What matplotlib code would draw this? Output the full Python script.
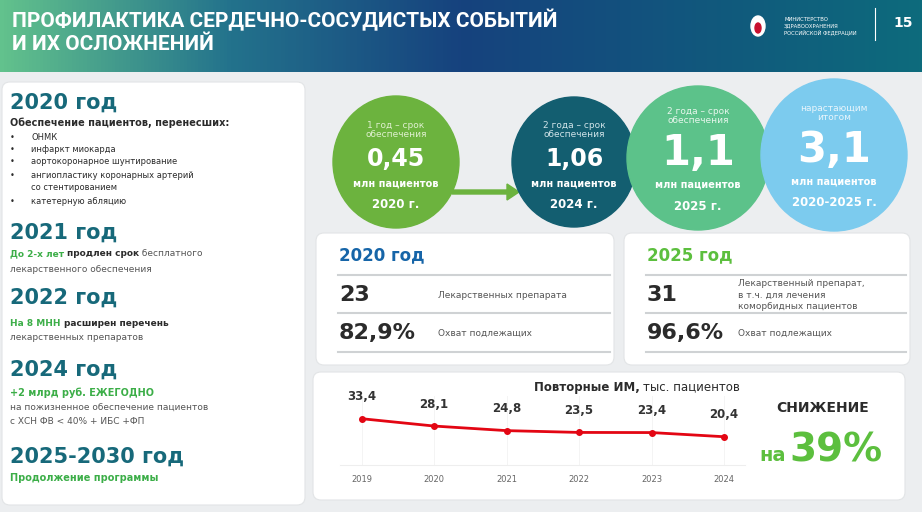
import numpy as np
import matplotlib.pyplot as plt
from matplotlib.patches import FancyBboxPatch, Ellipse, FancyArrow
from matplotlib.colors import LinearSegmentedColormap

plt.rcParams['font.family'] = ['DejaVu Sans']

# данные
years = [2019, 2020, 2021, 2022, 2023, 2024]
repeat_mi = [33.4, 28.1, 24.8, 23.5, 23.4, 20.4]

circle_top = ['1 год – срок\nобеспечения', '2 года – срок\nобеспечения',
              '2 года – срок\nобеспечения', 'нарастающим\nитогом']
circle_values = ['0,45', '1,06', '1,1', '3,1']
circle_years = ['2020 г.', '2024 г.', '2025 г.', '2020-2025 г.']

card_2020 = [('23', 'Лекарственных препарата'), ('82,9%', 'Охват подлежащих')]
card_2025 = [('31', 'Лекарственный препарат,\nв т.ч. для лечения\nкоморбидных пациентов'),
             ('96,6%', 'Охват подлежащих')]

TEAL = '#17697a'
GREEN = '#3cae48'
DARK = '#2b2b2b'
GREY = '#555555'

fig = plt.figure(figsize=(9.22, 5.12), dpi=100)
fig.patch.set_facecolor('#eceef0')
ax = fig.add_axes([0, 0, 1, 1])
ax.set_xlim(0, 922)
ax.set_ylim(512, 0)
ax.axis('off')

# шапка с градиентом
cmap = LinearSegmentedColormap.from_list('hdr', [(0, '#62c28d'), (0.25, '#23728c'),
                                                 (0.5, '#16427e'), (1, '#0d6b7c')])
grad = np.linspace(0, 1, 256).reshape(1, -1)
ax.imshow(grad, cmap=cmap, extent=(0, 922, 72, 0), aspect='auto', zorder=0)
ax.set_xlim(0, 922)
ax.set_ylim(512, 0)
ax.text(12, 20, 'ПРОФИЛАКТИКА СЕРДЕЧНО-СОСУДИСТЫХ СОБЫТИЙ', color='white',
        fontsize=15, fontweight='bold', family='Roboto', va='center')
ax.text(12, 44, 'И ИХ ОСЛОЖНЕНИЙ', color='white', fontsize=15,
        fontweight='bold', family='Roboto', va='center')
ax.add_patch(Ellipse((758, 26), 14, 20, color='white', zorder=2))
ax.add_patch(Ellipse((758, 28), 6, 10, color='#c8102e', zorder=3))
ax.text(784, 26, 'МИНИСТЕРСТВО\nЗДРАВООХРАНЕНИЯ\nРОССИЙСКОЙ ФЕДЕРАЦИИ', color='white',
        fontsize=3.8, va='center', linespacing=1.2)
ax.plot([875, 875], [8, 40], color='white', lw=0.8)
ax.text(893, 23, '15', color='white', fontsize=10, fontweight='bold', va='center')


def panel(x0, y0, x1, y1):
    ax.add_patch(FancyBboxPatch((x0, y0), x1 - x0, y1 - y0,
                                boxstyle='round,pad=0,rounding_size=8',
                                fc='white', ec='#e2e4e6', lw=0.8, zorder=1))


panel(2, 82, 305, 505)
panel(316, 233, 614, 365)
panel(624, 233, 910, 365)
panel(313, 372, 905, 500)

renderer = fig.canvas.get_renderer()


def runs(x, y, parts, size):
    # текст из кусков разного цвета/жирности в одну строку
    for txt, color, bold in parts:
        t = ax.text(x, y, txt, color=color, fontsize=size, va='center',
                    fontweight='bold' if bold else 'normal', zorder=3)
        bb = t.get_window_extent(renderer=renderer)
        x += bb.width


# левая колонка
hd = dict(color=TEAL, fontsize=15, fontweight='bold', va='center', zorder=3)
ax.text(10, 103, '2020 год', **hd)
ax.text(10, 123, 'Обеспечение пациентов, перенесших:', color=DARK, fontsize=7,
        fontweight='bold', va='center')
bullets = [(137, 'ОНМК', True), (150, 'инфаркт миокарда', True),
           (162, 'аортокоронарное шунтирование', True),
           (175, 'ангиопластику коронарных артерий', True),
           (188, 'со стентированием', False), (202, 'катетерную абляцию', True)]
for yy, txt, b in bullets:
    if b:
        ax.text(10, yy, '•', fontsize=6, color=DARK, va='center')
    ax.text(31, yy, txt, fontsize=6, color=DARK, va='center')

ax.text(10, 233, '2021 год', **hd)
runs(10, 254, [('До 2-х лет ', GREEN, True), ('продлен срок', DARK, True),
               (' бесплатного', GREY, False)], 6.5)
ax.text(10, 269, 'лекарственного обеспечения', fontsize=6.5, color=GREY, va='center')

ax.text(10, 298, '2022 год', **hd)
runs(10, 324, [('На 8 МНН ', GREEN, True), ('расширен перечень', DARK, True)], 6.5)
ax.text(10, 338, 'лекарственных препаратов', fontsize=6.5, color=GREY, va='center')

ax.text(10, 370, '2024 год', **hd)
ax.text(10, 393, '+2 млрд руб. ЕЖЕГОДНО', fontsize=7, color=GREEN,
        fontweight='bold', va='center')
ax.text(10, 408, 'на пожизненное обеспечение пациентов', fontsize=6.5, color=GREY, va='center')
ax.text(10, 422, 'с ХСН ФВ < 40% + ИБС +ФП', fontsize=6.5, color=GREY, va='center')

ax.text(10, 457, '2025-2030 год', **hd)
ax.text(10, 478, 'Продолжение программы', fontsize=7, color=GREEN,
        fontweight='bold', va='center')

# круги
centers = [(396, 162), (574, 162), (698, 158), (834, 155)]
sizes = [(126, 132), (124, 130), (142, 144), (146, 152)]
colors = ['#6cb33e', '#135e70', '#5cc28a', '#7ccbee']
top_colors = ['#dff0cf', '#cfe3e8', '#e6f6ec', '#e8f5fc']
for i, ((cx, cy), (w, h), c) in enumerate(zip(centers, sizes, colors)):
    ax.add_patch(Ellipse((cx, cy), w, h, color=c, zorder=2 + i * 0.01))
    big = i >= 2
    ax.text(cx, cy - (42 if big else 32), circle_top[i], color=top_colors[i], fontsize=6.5,
            ha='center', va='center', linespacing=1.1, zorder=3)
    ax.text(cx, cy - 3 if not big else cy - 5, circle_values[i], color='white',
            fontsize=30 if big else 17, fontweight='bold', ha='center', va='center', zorder=3)
    ax.text(cx, cy + 22 if not big else cy + 27, 'млн пациентов', color='white', fontsize=7,
            fontweight='bold', ha='center', va='center', zorder=3)
    ax.text(cx, cy + 43 if not big else cy + 48, circle_years[i], color='white', fontsize=8.5,
            fontweight='bold', ha='center', va='center', zorder=3)
ax.add_patch(FancyArrow(452, 192, 55, 0, width=4, head_width=16, head_length=12,
                        color='#6cb33e', zorder=1.5, length_includes_head=False))

# карточки
def card(x0, x1, title, tcolor, rows, tx):
    ax.text(x0 + 23, 255, title, color=tcolor, fontsize=12, fontweight='bold',
            va='center', zorder=3)
    for yy in (275, 313, 352):
        ax.plot([x0 + 22, x1 - 4], [yy, yy], color='#cfd2d4', lw=1.5, zorder=3)
    for (val, lab), yy in zip(rows, (295, 333)):
        ax.text(x0 + 23, yy, val, color=DARK, fontsize=16, fontweight='bold',
                va='center', zorder=3)
        ax.text(tx, yy, lab, color=GREY, fontsize=6.5, va='center',
                linespacing=1.3, zorder=3)


card(316, 614, '2020 год', '#1665a8', card_2020, 438)
card(624, 910, '2025 год', '#5cbf3e', card_2025, 738)

# график повторных ИМ
ax.text(640, 387, 'Повторные ИМ,', color=DARK, fontsize=8.5, fontweight='bold',
        ha='right', va='center')
ax.text(643, 387, 'тыс. пациентов', color=DARK, fontsize=8.5, ha='left', va='center')
ax.text(823, 408, 'СНИЖЕНИЕ', color=DARK, fontsize=10, fontweight='bold',
        ha='center', va='center')
ax.text(786, 461, 'на', color='#5cbf3e', fontsize=14, fontweight='bold',
        ha='right', va='baseline')
ax.text(789, 461, '39%', color='#5cbf3e', fontsize=28, fontweight='bold',
        ha='left', va='baseline')

cax = fig.add_axes([340 / 922, 1 - 465 / 512, 405 / 922, 69.3 / 512])
cax.patch.set_alpha(0)
cax.plot(years, repeat_mi, color='#e30613', lw=2, marker='o', ms=4)
cax.set_xlim(2018.7, 2024.29)
cax.set_ylim(0, 50)
for x, v in zip(years, repeat_mi):
    cax.axvline(x, color='#f2f2f2', lw=0.6, zorder=0)
    cax.annotate(f'{v:.1f}'.replace('.', ','), (x, v), xytext=(0, 11),
                 textcoords='offset points', ha='center', va='bottom',
                 fontsize=8.5, fontweight='bold', color='#333333')
for s in ('top', 'right', 'left'):
    cax.spines[s].set_visible(False)
cax.spines['bottom'].set_color('#eeeeee')
cax.set_yticks([])
cax.set_xticks(years)
cax.tick_params(axis='x', length=0, labelsize=6, labelcolor='#666666', pad=7)

fig.savefig('out.png', dpi=100, facecolor=fig.get_facecolor())
